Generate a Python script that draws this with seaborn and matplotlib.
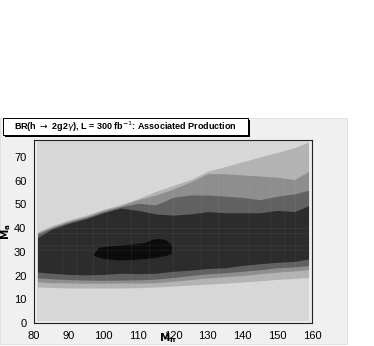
import seaborn as sns
import numpy as np
import matplotlib.pyplot as plt
from matplotlib.patches import Rectangle
from matplotlib.ticker import MultipleLocator

# contour band boundaries, sampled along M_h
mh = [81, 85, 90, 95, 100, 105, 110, 115, 120, 125, 130, 135, 140, 145, 150, 155, 159]

band1_top = [38.5, 41, 43.5, 45.5, 48, 50, 52.5, 55.5, 58, 60.5, 64, 66, 68, 70, 72, 74, 76.3]
band2_top = [38, 40.5, 43, 45, 47.5, 49.5, 52, 54, 56.5, 59.5, 63, 63, 62.5, 62, 61.5, 60.5, 64]
band3_top = [37.5, 40, 42.5, 44.5, 47, 49, 50.5, 49.8, 53, 54, 54, 53.5, 53, 52, 53.5, 54.5, 56]
band4_top = [36, 39.5, 42, 44, 46.5, 48.5, 47.5, 46, 45.5, 46, 47, 46.5, 46.5, 46.5, 47.5, 47, 49.5]

band4_low = [21.5, 21, 20.5, 20.3, 20.5, 21, 20.8, 21, 21.8, 22.3, 23, 23.3, 24.3, 25, 25.6, 26, 27]
band3_low = [19, 18.7, 18.3, 18.1, 18, 18.1, 18.2, 18.5, 19.2, 20, 20.8, 21.2, 21.8, 22.5, 23.3, 23.7, 24.2]
band2_low = [17.4, 17, 16.9, 16.8, 16.8, 16.9, 16.8, 17, 17.6, 18.3, 19, 19.5, 20, 20.8, 21.5, 22, 22.5]
band1_low = [15.2, 15, 14.8, 14.8, 14.8, 14.8, 14.9, 15.2, 15.6, 16, 16.4, 16.8, 17.3, 17.8, 18.4, 18.8, 19.2]

# innermost (black) island
core_mh = [97, 98.5, 100, 104, 108, 112, 114, 116, 118, 119.5]
core_top = [29, 31.8, 32.3, 32.8, 33.3, 34, 35.3, 35.7, 35, 33]
core_low = [28.7, 27.8, 27.2, 26.6, 26.7, 27.2, 27.5, 28, 28.5, 29.5]

shades = ['#d7d7d7', '#b3b3b3', '#8e8e8e', '#616161', '#2c2c2c', '#0c0c0c']

sns.set_style('white')
plt.rcParams['font.family'] = ['Liberation Sans', 'DejaVu Sans']
plt.rcParams['text.color'] = 'black'
plt.rcParams['xtick.color'] = 'black'
plt.rcParams['ytick.color'] = 'black'
plt.rcParams['axes.labelcolor'] = 'black'

W, H = 374, 346
fig = plt.figure(figsize=(W / 100, H / 100), dpi=100)
fig.patch.set_facecolor('white')

# grey canvas
fig.patches.append(Rectangle((0, 2 / H), 347 / W, 226 / H, transform=fig.transFigure,
                             facecolor='#f0f0f0', edgecolor='#dcdcdc', lw=0.6, zorder=-1))

ax = fig.add_axes([34 / W, (H - 323) / H, 278 / W, 183 / H])
ax.set_zorder(1)
ax.set_facecolor('#ececec')

ax.fill_between([80.8, 159.2], 0.8, 76.6, color=shades[0], lw=0)
bands = [(band1_low, band1_top), (band2_low, band2_top),
         (band3_low, band3_top), (band4_low, band4_top)]
for (lo, hi), c in zip(bands, shades[1:5]):
    ax.fill_between(mh, lo, hi, color=c, lw=0)
ax.fill_between(core_mh, core_low, core_top, color=shades[5], lw=0)

# faint gouraud artefact lines
for xv in [88, 92, 97, 101, 108, 113, 120, 128, 133, 142, 148, 152, 155]:
    ax.axvline(xv, color='white', alpha=0.05, lw=0.8)
for yv in [31, 33, 38, 40]:
    ax.axhline(yv, color='white', alpha=0.05, lw=0.8)

ax.set_xlim(80, 160)
ax.set_ylim(0, 77.2)
ax.xaxis.set_major_locator(MultipleLocator(10))
ax.xaxis.set_minor_locator(MultipleLocator(2))
ax.yaxis.set_major_locator(MultipleLocator(10))
ax.yaxis.set_minor_locator(MultipleLocator(2))
ax.tick_params(which='major', length=4, width=0.8, labelsize=8, pad=1.5, color='#222222')
ax.tick_params(which='minor', length=2, width=0.6, color='#222222')
for s in ax.spines.values():
    s.set_color('#222222')
    s.set_linewidth(0.8)

ax.set_xlabel(r'$\mathbf{M_h}$', fontsize=7.5)
ax.xaxis.set_label_coords(0.48, -0.045)
ax.xaxis.label.set_va('top')
ax.set_ylabel(r'$\mathbf{M_a}$', fontsize=7.5)
ax.yaxis.set_label_coords(-0.075, 0.5)

# title box with shadow
fig.patches.append(Rectangle((5 / W, (H - 137) / H), 245 / W, 17 / H, transform=fig.transFigure,
                             facecolor='black', edgecolor='black', lw=0, zorder=3))
fig.patches.append(Rectangle((3 / W, (H - 135) / H), 245 / W, 17 / H, transform=fig.transFigure,
                             facecolor='white', edgecolor='black', lw=0.7, zorder=4))
fig.text(125 / W, (H - 126.5) / H,
         r'BR(h $\rightarrow$ 2g2$\gamma$), L = 300 fb$^{-1}$: Associated Production',
         ha='center', va='center', fontsize=6.5, fontweight='bold', zorder=5)

fig.savefig('out.png', dpi=100)
